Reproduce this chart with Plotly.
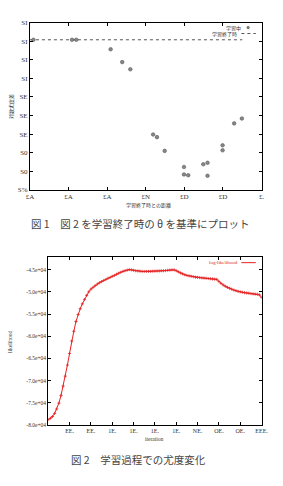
import plotly.graph_objects as go

W, H = 283, 486

# ---- top chart data ----
pts_x = [0.09, 1.09, 1.20, 2.09, 2.39, 2.60, 3.19, 3.29, 3.49, 3.99, 3.99, 4.10,
         4.49, 4.60, 4.60, 4.99, 4.99, 5.29, 5.49]
pts_y = [8.08, 8.08, 8.08, 7.57, 6.88, 6.49, 2.98, 2.84, 2.10, 1.23, 0.83, 0.79,
         1.38, 1.46, 0.76, 2.40, 2.13, 3.58, 3.84]
base_x = [0.0, 5.5]
base_y = [8.08, 8.08]
top_xticks = [0, 1, 2, 3, 4, 5, 6]
top_xlabels = ["£A", "£A", "£A", "£N", "£D", "£D", "£."]
top_yticks = [0, 1, 2, 3, 4, 5, 6, 7, 8, 9]
top_ylabels = ["S%", "S0", "S0", "SE", "SE", "SE", "SI", "SI", "SI", "SI"]

# ---- bottom chart data ----
iters = list(range(0, 1001, 10))
loglik = [0.24, 0.30, 0.38, 0.52, 0.72, 0.98, 1.33, 1.75, 2.20, 2.70,
          3.22, 3.78, 4.22, 4.66, 4.98, 5.24, 5.46, 5.66, 5.84, 6.00,
          6.12, 6.20, 6.28, 6.35, 6.41, 6.46, 6.51, 6.56, 6.61, 6.65,
          6.70, 6.74, 6.79, 6.84, 6.88, 6.92, 6.95, 6.98, 7.00, 6.99,
          6.97, 6.95, 6.94, 6.93, 6.92, 6.92, 6.92, 6.92, 6.92, 6.93,
          6.93, 6.94, 6.94, 6.95, 6.95, 6.96, 6.97, 6.98, 6.99, 6.99,
          6.95, 6.90, 6.85, 6.81, 6.77, 6.74, 6.72, 6.70, 6.68, 6.66,
          6.65, 6.64, 6.63, 6.62, 6.61, 6.60, 6.59, 6.58, 6.57, 6.56,
          6.47, 6.38, 6.31, 6.25, 6.20, 6.16, 6.12, 6.08, 6.05, 6.02,
          6.00, 5.98, 5.96, 5.95, 5.94, 5.92, 5.91, 5.90, 5.89, 5.86,
          5.75]
bot_xticks = list(range(0, 1001, 100))
bot_xlabels = ["", "EE.", "EE.", "1E.", "1E.", "1E.", "1E.", "NE.", "OE.", "OE.", "EEE."]
bot_yticks = [0, 1, 2, 3, 4, 5, 6, 7]
bot_ylabels = ["-8.0e+04", "-7.5e+04", "-7.0e+04", "-6.5e+04",
               "-6.0e+04", "-5.5e+04", "-5.0e+04", "-4.5e+04"]

fig = go.Figure()
fig.add_trace(go.Scatter(x=base_x, y=base_y, mode="lines",
                         line=dict(color="#555", width=1, dash="dot"),
                         xaxis="x", yaxis="y", hoverinfo="skip"))
fig.add_trace(go.Scatter(x=pts_x, y=pts_y, mode="markers",
                         marker=dict(size=3.6, color="#888", line=dict(color="#444", width=0.5)),
                         xaxis="x", yaxis="y"))
fig.add_trace(go.Scatter(x=iters, y=loglik, mode="lines+markers",
                         line=dict(color="#e52222", width=1),
                         marker=dict(symbol="cross-thin", size=2.2,
                                     line=dict(color="#e52222", width=0.8)),
                         xaxis="x2", yaxis="y2"))

def ax(domain, rng, tv, tt, anchor, size):
    return dict(domain=domain, range=rng, tickvals=tv, ticktext=tt, anchor=anchor,
                ticks="inside", ticklen=3, tickcolor="black", showline=True,
                linecolor="black", linewidth=1, mirror="ticks", showgrid=False,
                zeroline=False, tickfont=dict(family="Liberation Serif", size=size, color="#333"),
                fixedrange=True)

fig.update_layout(
    width=W, height=H, margin=dict(l=0, r=0, t=0, b=0),
    paper_bgcolor="white", plot_bgcolor="white", showlegend=False,
    xaxis=ax([27 / W, 268 / W], [0, 6], top_xticks, top_xlabels, "y", 7),
    yaxis=ax([1 - 189 / H, 1 - 19 / H], [0, 9], top_yticks, top_ylabels, "x", 7),
    xaxis2=ax([46 / W, 268 / W], [0, 1000], bot_xticks, bot_xlabels, "y2", 6),
    yaxis2=ax([1 - 428 / H, 1 - 257 / H], [0, 7.58], bot_yticks, bot_ylabels, "x2", 5.5),
)

def note(text, x, y, size, color="#333", angle=0, family="Noto Sans CJK JP", xanchor="center"):
    fig.add_annotation(text=text, x=x / W, y=1 - y / H, xref="paper", yref="paper",
                       showarrow=False, textangle=angle, xanchor=xanchor, yanchor="middle",
                       font=dict(size=size, color=color, family=family))

# axis titles
note("学習終了時との距離", 150, 204, 5)
note("対数尤度差", 8, 104, 5, angle=-90)
note("iteration", 157, 442, 5.5, family="Liberation Serif")
note("likelihood", 7, 343, 5.5, angle=-90, family="Liberation Serif")

# legends (gnuplot style: text left, sample right)
note("学習中", 249, 24, 5, xanchor="right")
note("学習終了時", 245, 30, 5, xanchor="right")
fig.add_shape(type="circle", xref="paper", yref="paper",
              x0=252.7 / W, x1=255.3 / W, y0=1 - 25.3 / H, y1=1 - 22.7 / H,
              fillcolor="#888", line=dict(color="#444", width=0.5))
fig.add_shape(type="line", xref="paper", yref="paper",
              x0=247 / W, x1=262 / W, y0=1 - 30 / H, y1=1 - 30 / H,
              line=dict(color="#555", width=1, dash="dot"))
note("log-likelihood", 246, 263, 5, color="#e52222", family="Liberation Serif", xanchor="right")
fig.add_shape(type="line", xref="paper", yref="paper",
              x0=247 / W, x1=262 / W, y0=1 - 263 / H, y1=1 - 263 / H,
              line=dict(color="#e52222", width=1))

# captions
note("図 1　図 2 を学習終了時の θ を基準にプロット", 142, 223, 10.5, color="#444")
note("図 2　学習過程での尤度変化", 140, 463, 10.5, color="#444")

fig.write_html("out.html")
